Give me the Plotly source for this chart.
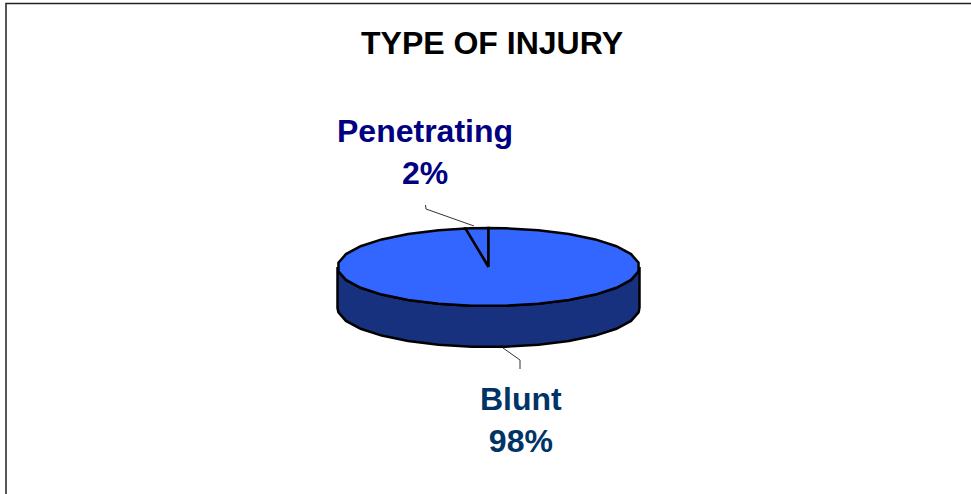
import numpy as np
import plotly.graph_objects as go

title = "TYPE OF INJURY"
categories = ["Penetrating", "Blunt"]
values = [2.45, 97.55]
slice_colors = ["#3366FF", "#3366FF"]
side_color = "#17317F"
label_colors = ["#000080", "#003366"]
label_pos = [(425.3, 152), (521, 420)]

W, H = 971, 494
cx, cy, rx, ry, depth = 488.5, 267, 151, 39, 41
FACET = np.deg2rad(360 / 28)


def ell(a, dy=0):
    # a: clockwise angle from 12 o'clock, in radians
    return cx + rx * np.sin(a), cy - ry * np.cos(a) + dy


def arc(a0, a1):
    # facet corners sit half a facet either side of 12 o'clock, as in the blocky original
    k0 = int(np.floor(a0 / FACET)) - 1
    k1 = int(np.ceil(a1 / FACET)) + 1
    inner = [(k + 0.5) * FACET for k in range(k0, k1 + 1) if a0 < (k + 0.5) * FACET < a1]
    return np.array([a0] + inner + [a1])


fig = go.Figure()

# side wall: the near half of the rim, extruded downwards
a = arc(np.pi / 2, 3 * np.pi / 2)
xt, yt = ell(a)
xb, yb = ell(a, depth)
fig.add_trace(go.Scatter(
    x=np.r_[xb, xt[::-1], xb[0]], y=np.r_[yb, yt[::-1], yb[0]],
    mode="lines", fill="toself", fillcolor=side_color,
    line=dict(color="black", width=2.5), hoverinfo="skip", showlegend=False))

# top slices, starting at 12 o'clock and going anticlockwise for the first value
start = 2 * np.pi - 2 * np.pi * values[0] / sum(values)
angles = [(start, 2 * np.pi), (0, start)]
for (a0, a1), c, name in zip(angles, slice_colors, categories):
    a = arc(a0, a1)
    x, y = ell(a)
    fig.add_trace(go.Scatter(
        x=np.r_[cx, x, cx], y=np.r_[cy, y, cy], name=name,
        mode="lines", fill="toself", fillcolor=c,
        line=dict(color="black", width=2.5), hoverinfo="skip", showlegend=False))

# leader lines
leaders = [([425.5, 426, 474], [205, 209, 226]), ([503, 520, 520], [348, 360, 369])]
for lx, ly in leaders:
    fig.add_trace(go.Scatter(x=lx, y=ly, mode="lines", line=dict(color="#333333", width=1),
                             hoverinfo="skip", showlegend=False))

# frame
fig.add_trace(go.Scatter(x=[6, 6, 971], y=[494, 3.5, 3.5], mode="lines",
                         line=dict(color="#222222", width=1.5), hoverinfo="skip", showlegend=False))

total = sum(values)
for cat, v, col, (lx, ly) in zip(categories, values, label_colors, label_pos):
    fig.add_annotation(x=lx, y=ly, text=f"<b>{cat}<br>{v / total * 100:.0f}%</b>", showarrow=False,
                       font=dict(family="Liberation Sans", size=32, color=col),
                       xanchor="center", yanchor="middle", align="center")

fig.add_annotation(x=491.5, y=43, text=f"<b>{title}</b>", showarrow=False,
                   font=dict(family="Liberation Sans", size=32, color="black"),
                   xanchor="center", yanchor="middle")

fig.update_layout(
    width=W, height=H, margin=dict(l=0, r=0, t=0, b=0),
    paper_bgcolor="white", plot_bgcolor="white",
    xaxis=dict(range=[0, W], visible=False, fixedrange=True),
    yaxis=dict(range=[H, 0], visible=False, fixedrange=True),
)
fig.write_html("out.html", config=dict(displayModeBar=False),
               post_script="document.body.style.margin='0';document.body.style.overflow='hidden';")
